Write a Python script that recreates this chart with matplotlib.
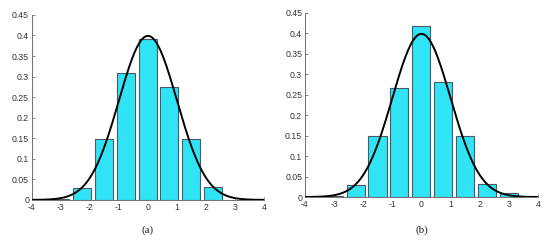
import numpy as np
import matplotlib
matplotlib.use("Agg")
import matplotlib.pyplot as plt

# bin centres and relative frequencies
centers_a = [-3.02, -2.27, -1.51, -0.76, 0.0, 0.74, 1.49, 2.25]
heights_a = [0.003, 0.028, 0.147, 0.308, 0.391, 0.274, 0.147, 0.031]

centers_b = [-3.02, -2.25, -1.51, -0.76, 0.0, 0.74, 1.49, 2.25, 3.0]
heights_b = [0.003, 0.029, 0.149, 0.266, 0.417, 0.281, 0.149, 0.031, 0.011]

labels = ["(a)", "(b)"]
xticks = [-4, -3, -2, -1, 0, 1, 2, 3, 4]
yticks = [0, 0.05, 0.1, 0.15, 0.2, 0.25, 0.3, 0.35, 0.4, 0.45]
ytick_labels = ["0", "0.05", "0.1", "0.15", "0.2", "0.25", "0.3", "0.35", "0.4", "0.45"]

# theoretical normal density drawn on top
mu, sigma = 0.0, 1.0
xs = np.linspace(-4, 4, 400)
pdf = np.exp(-0.5 * ((xs - mu) / sigma) ** 2) / (sigma * np.sqrt(2 * np.pi))

bar_width = 0.62

fig = plt.figure(figsize=(5.5, 2.4), dpi=100)
ax_a = fig.add_axes([0.058, 0.167, 0.422, 0.771])
ax_b = fig.add_axes([0.5545, 0.179, 0.4236, 0.767])

for ax, centers, heights, lab, ly in [(ax_a, centers_a, heights_a, labels[0], -0.165),
                                       (ax_b, centers_b, heights_b, labels[1], -0.18)]:
    ax.bar(centers, heights, width=bar_width, color="#30e4f6",
           edgecolor="#4a5a66", linewidth=0.8, zorder=2)
    ax.plot(xs, pdf, color="black", linewidth=1.4, zorder=3)
    ax.set_xlim(-4, 4)
    ax.set_ylim(0, 0.45)
    ax.set_xticks(xticks)
    ax.set_xticklabels([str(t) for t in xticks])
    ax.set_yticks(yticks)
    ax.set_yticklabels(ytick_labels)
    for s in ["top", "right"]:
        ax.spines[s].set_visible(False)
    for s in ["left", "bottom"]:
        ax.spines[s].set_color("#707070")
        ax.spines[s].set_linewidth(0.7)
    ax.tick_params(direction="in", length=2, width=0.6, color="#707070",
                   labelsize=6.3, labelcolor="#333333", pad=2)
    for t in ax.get_xticklabels() + ax.get_yticklabels():
        t.set_family("Liberation Sans")
    ax.text(0.5, ly, lab, transform=ax.transAxes, ha="center", va="center",
            fontsize=8, family="Liberation Serif", color="#222222")

fig.savefig("out.png", dpi=100)
